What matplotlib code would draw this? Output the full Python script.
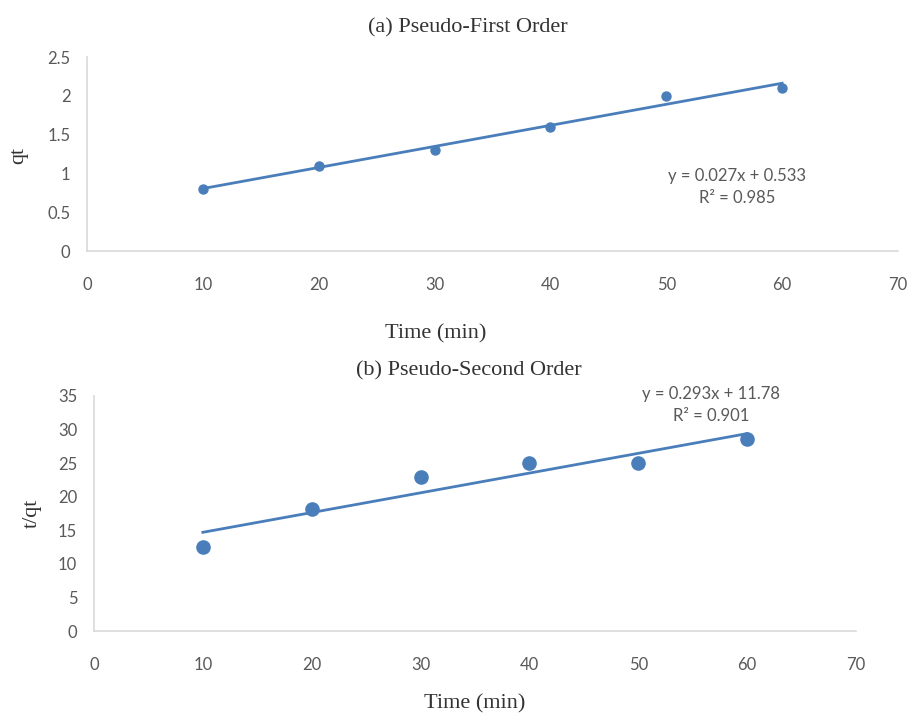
import numpy as np
import matplotlib.pyplot as plt

time_min = [10, 20, 30, 40, 50, 60]
qt = [0.8, 1.1, 1.3, 1.6, 2.0, 2.1]
t_over_qt = [12.5, 18.2, 23.0, 25.0, 25.0, 28.6]
eq_first = 'y = 0.027x + 0.533\nR² = 0.985'
eq_second = 'y = 0.293x + 11.78\nR² = 0.901'

blue = '#4a7ebb'
gray = '#595959'
dark = '#333333'
tick_font = 'Lato'
serif = 'Liberation Serif'

W, H = 909, 713
fig = plt.figure(figsize=(W / 100, H / 100), dpi=100)
ax1 = fig.add_axes([87 / W, 1 - 251 / H, 811 / W, 194 / H])
ax2 = fig.add_axes([94 / W, 1 - 631 / H, 762 / W, 235 / H])


def style(ax, ymax, ystep):
    ax.set_xlim(0, 70)
    ax.set_ylim(0, ymax)
    ax.set_xticks(range(0, 71, 10))
    ax.set_yticks(np.arange(0, ymax + 0.001, ystep))
    for s in ['top', 'right']:
        ax.spines[s].set_visible(False)
    for s in ['left', 'bottom']:
        ax.spines[s].set_color('#d9d9d9')
        ax.spines[s].set_linewidth(1.2)
    ax.tick_params(length=0, labelsize=12, labelcolor=gray, pad=12)
    ax.tick_params(axis='x', pad=18.5)
    for lab in ax.get_xticklabels() + ax.get_yticklabels():
        lab.set_fontfamily(tick_font)


def ftext(x, y, s, **kw):
    fig.text(x / W, 1 - y / H, s, ha='center', va='center', family=serif,
             fontsize=16, color=dark, **kw)


xs = np.array([min(time_min), max(time_min)])

# (a) pseudo-first order
style(ax1, 2.5, 0.5)
ax1.set_yticklabels(['0', '0.5', '1', '1.5', '2', '2.5'])
m1, b1 = np.polyfit(time_min, qt, 1)
ax1.plot(xs, m1 * xs + b1, color=blue, lw=2)
ax1.plot(time_min, qt, 'o', color=blue, ms=6.5)
ax1.text(56.1, 0.83, eq_first, ha='center', va='center',
         color=gray, fontsize=12, family=tick_font, linespacing=1.45)
ftext(468, 28, '(a) Pseudo-First Order')
ftext(436, 334, 'Time (min)')
ftext(19, 155, 'qt', rotation=90)

# (b) pseudo-second order
style(ax2, 35, 5)
m2, b2 = np.polyfit(time_min, t_over_qt, 1)
ax2.plot(xs, m2 * xs + b2, color=blue, lw=2)
ax2.plot(time_min, t_over_qt, 'o', color=blue, ms=9.5)
ax2.text(56.7, 33.7, eq_second, ha='center', va='center',
         color=gray, fontsize=12, family=tick_font, linespacing=1.45)
ftext(469, 371, '(b) Pseudo-Second Order')
ftext(475, 704, 'Time (min)')
ftext(32, 513, 't/qt', rotation=90)

plt.savefig('out.png', dpi=100)
